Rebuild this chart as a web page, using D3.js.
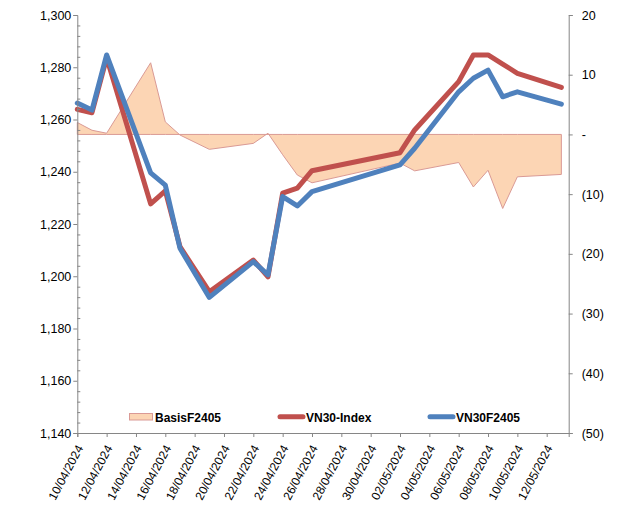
<!DOCTYPE html>
<html>
<head>
<meta charset="utf-8">
<script src="https://cdn.jsdelivr.net/npm/d3@7/dist/d3.min.js"></script>
<style>
  html, body { margin: 0; padding: 0; background: #fff; }
  svg { display: block; }
  text { font-family: Arial, "Liberation Sans", sans-serif; fill: #000; }
</style>
</head>
<body>
<svg id="chart" width="641" height="511"></svg>
<script>
// ---- data ----
const dates = ["10/04/2024","11/04/2024","12/04/2024","15/04/2024","16/04/2024","17/04/2024",
  "19/04/2024","22/04/2024","23/04/2024","24/04/2024","25/04/2024","26/04/2024",
  "02/05/2024","03/05/2024","06/05/2024","07/05/2024","08/05/2024","09/05/2024",
  "10/05/2024","13/05/2024"];
const vn30Index = [1263.9, 1262.6, 1283.6, 1227.7, 1232.7, 1211.3, 1194.1, 1206.2, 1199.8, 1231.8,
  1233.7, 1240.4, 1247.3, 1256.0, 1274.5, 1284.7, 1284.7, 1281.2, 1277.7, 1272.3];
const vn30F2405 = [1266.3, 1263.6, 1284.7, 1239.6, 1234.9, 1210.7, 1191.9, 1205.6, 1200.5, 1230.5,
  1226.9, 1232.4, 1242.6, 1249.0, 1270.6, 1275.8, 1278.9, 1268.7, 1270.6, 1265.9];
const basisF2405 = [2.0, 0.7, 0.2, 12.0, 2.1, -0.1, -2.5, -1.5, 0.2, -3.4,
  -6.8, -8.1, -4.8, -6.1, -4.7, -8.8, -6.0, -12.4, -7.1, -6.7];
const leftTicks = [1140, 1160, 1180, 1200, 1220, 1240, 1260, 1280, 1300];
const rightTicks = [-50, -40, -30, -20, -10, 0, 10, 20];
const seriesNames = ["BasisF2405", "VN30-Index", "VN30F2405"];

// ---- setup ----
const parse = d3.timeParse("%d/%m/%Y");
const fmt = d3.timeFormat("%d/%m/%Y");
const dts = dates.map(parse);
const svg = d3.select("#chart");

const x0 = 77.3, x1 = 568.7, yTop = 15, yBot = 433;
const start = parse("10/04/2024");
const end = d3.timeHour.offset(parse("13/05/2024"), 12);
const x = d3.scaleTime().domain([start, end]).range([x0, x1]);
const yL = d3.scaleLinear().domain([1140, 1300]).range([yBot, yTop]);
const yR = d3.scaleLinear().domain([-50, 20]).range([yBot, yTop]);

const axisColor = "#868686";

// ---- basis area ----
const area = d3.area()
  .x((d, i) => x(dts[i]))
  .y0(() => yR(0))
  .y1(d => yR(d));
svg.append("path")
  .datum(basisF2405)
  .attr("d", area)
  .attr("fill", "#FCD5B4")
  .attr("stroke", "#DA9A95")
  .attr("stroke-width", 1);

// ---- lines ----
const lineL = d3.line().x((d, i) => x(dts[i])).y(d => yL(d));
svg.append("path").datum(vn30Index).attr("d", lineL)
  .attr("fill", "none").attr("stroke", "#C0504D").attr("stroke-width", 5)
  .attr("stroke-linejoin", "round").attr("stroke-linecap", "round");
svg.append("path").datum(vn30F2405).attr("d", lineL)
  .attr("fill", "none").attr("stroke", "#4F81BD").attr("stroke-width", 5)
  .attr("stroke-linejoin", "round").attr("stroke-linecap", "round");

// ---- left axis ----
const gL = svg.append("g").attr("transform", `translate(${x0},0)`)
  .call(d3.axisLeft(yL).tickValues(leftTicks).tickSize(4).tickPadding(2)
    .tickFormat(d3.format(",")));
gL.select(".domain").attr("stroke", axisColor);
gL.selectAll(".tick line").attr("stroke", axisColor);
gL.selectAll("text").style("font-size", "12.5px").attr("fill", "#000");
// minor ticks
const minor = d3.range(1140, 1300.1, 4).filter(v => v % 20 !== 0);
gL.selectAll(".minor").data(minor).enter().append("line")
  .attr("x1", 0).attr("x2", 3)
  .attr("y1", d => yL(d) + 0.5).attr("y2", d => yL(d) + 0.5)
  .attr("stroke", axisColor);

// ---- right axis ----
const rightFmt = v => v === 0 ? "-" : (v < 0 ? `(${-v})` : `${v}`);
const gR = svg.append("g").attr("transform", `translate(${x1},0)`)
  .call(d3.axisRight(yR).tickValues(rightTicks).tickSize(4).tickPadding(9)
    .tickFormat(rightFmt));
gR.select(".domain").attr("stroke", axisColor);
gR.selectAll(".tick line").attr("stroke", axisColor);
gR.selectAll("text").style("font-size", "12.5px").attr("fill", "#000");

// ---- x axis ----
const xTicks = d3.range(0, 33, 2).map(k => d3.timeDay.offset(start, k));
const gX = svg.append("g").attr("transform", `translate(0,${yBot})`)
  .call(d3.axisBottom(x).tickValues(xTicks).tickSize(4).tickFormat(fmt));
gX.select(".domain").attr("stroke", axisColor);
gX.selectAll(".tick line").attr("stroke", axisColor);
gX.selectAll("text")
  .style("font-size", "12px").attr("fill", "#000")
  .attr("text-anchor", "end")
  .attr("x", 0).attr("y", 0).attr("dy", "0.35em")
  .attr("transform", "translate(2,13) rotate(-62)");

// ---- legend ----
const lg = svg.append("g");
lg.append("rect").attr("x", 129.5).attr("y", 413.5).attr("width", 23).attr("height", 6.5)
  .attr("fill", "#FCD5B4").attr("stroke", "#DA9A95");
lg.append("text").attr("x", 155).attr("y", 421.5).text(seriesNames[0])
  .style("font-size", "12px").style("font-weight", "bold");
lg.append("line").attr("x1", 280).attr("x2", 303).attr("y1", 416.7).attr("y2", 416.7)
  .attr("stroke", "#C0504D").attr("stroke-width", 5).attr("stroke-linecap", "round");
lg.append("text").attr("x", 306).attr("y", 421.5).text(seriesNames[1])
  .style("font-size", "12px").style("font-weight", "bold");
lg.append("line").attr("x1", 430).attr("x2", 453).attr("y1", 416.7).attr("y2", 416.7)
  .attr("stroke", "#4F81BD").attr("stroke-width", 5).attr("stroke-linecap", "round");
lg.append("text").attr("x", 456).attr("y", 421.5).text(seriesNames[2])
  .style("font-size", "12px").style("font-weight", "bold");
</script>
</body>
</html>
